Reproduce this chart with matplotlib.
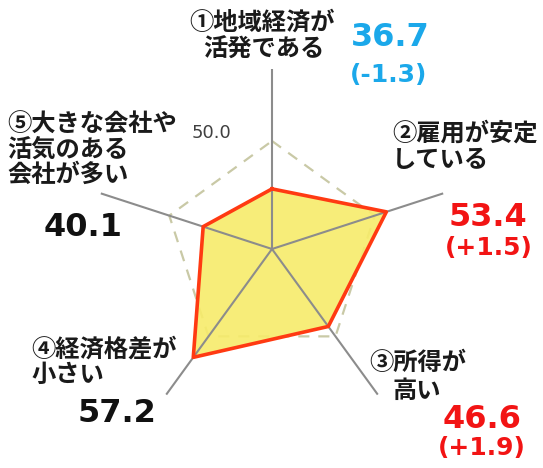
import numpy as np
import matplotlib
matplotlib.use("Agg")
import matplotlib.pyplot as plt

# data
labels = ["①地域経済が\n活発である", "②雇用が安定\nしている", "③所得が\n高い", "④経済格差が\n小さい", "⑤大きな会社や\n活気のある\n会社が多い"]
values = [36.7, 53.4, 46.6, 57.2, 40.1]
changes = ["(-1.3)", "(+1.5)", "(+1.9)", "", ""]
ref_level = 50.0

W, H = 543, 468
JP = ["Noto Sans CJK JP", "DejaVu Sans"]

def px(x, y):
	return x / W, 1 - y / H

def jp_text(x, y, s, ha="left", ls=1.1):
	fig.text(*px(x, y), s, family=JP, fontsize=17.5, fontweight="bold", color="#1a1a1a",
		ha=ha, va="center", linespacing=ls)

fig = plt.figure(figsize=(W / 100, H / 100), dpi=100)
ax = fig.add_axes([92 / W, 39 / H, 360 / W, 360 / H], projection="polar")
ax.set_theta_offset(np.pi / 2)
ax.set_theta_direction(-1)
ax.set_ylim(20, 70)
ax.axis("off")

n = len(values)
theta = np.linspace(0, 2 * np.pi, n, endpoint=False)
th = np.append(theta, theta[0])
vals = values + values[:1]

ax.plot(th, [ref_level] * (n + 1), color="#c9c9a6", lw=1.6, ls=(0, (5, 4)), zorder=1)
ax.fill(th, vals, color="#f7ec6a", alpha=0.9, lw=0, zorder=2)
for t in theta:
	ax.plot([t, t], [20, 70], color="#8c8c8c", lw=1.5, zorder=3)
ax.plot(th, vals, color="#ff3a12", lw=2.6, zorder=4)

# category labels
jp_text(262, 23, "①地域経済が", ha="center")
jp_text(264, 50, "活発である", ha="center")
jp_text(392, 147, "②雇用が安定\nしている")
jp_text(369, 363, "③所得が")
jp_text(393, 391, "高い")
jp_text(31, 362, "④経済格差が\n小さい")
jp_text(7, 150, "⑤大きな会社や\n活気のある\n会社が多い", ls=1.05)

fig.text(*px(211, 133), "{:.1f}".format(ref_level), fontsize=13, color="#404040", ha="center", va="center")

# values
blue, red, black = "#1ba8ea", "#f21414", "#111111"
val_pos = [(390, 37, blue), (488, 218, red), (482, 420, red), (117, 413, black), (83, 227, black)]
chg_pos = [(389, 75), (489, 248), (482, 448), None, None]
for i in range(n):
	x, y, c = val_pos[i]
	fig.text(*px(x, y), "{:.1f}".format(values[i]), fontsize=23, fontweight="bold", color=c, ha="center", va="center")
	if chg_pos[i]:
		fig.text(*px(*chg_pos[i]), changes[i], fontsize=18, fontweight="bold", color=c, ha="center", va="center")

fig.savefig("out.png", dpi=100)
